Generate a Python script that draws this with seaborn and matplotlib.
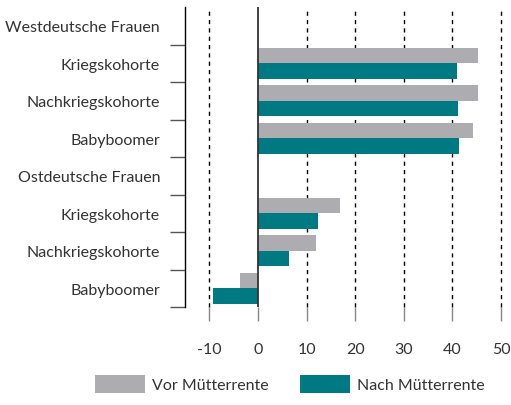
import numpy as np
import pandas as pd
import matplotlib
matplotlib.use("Agg")
import matplotlib.pyplot as plt
import seaborn as sns
from matplotlib.patches import Patch

sns.set_theme(style="white")
plt.rcParams['font.family'] = ['Lato', 'DejaVu Sans']

# ---- data ----
row_labels = ["Westdeutsche Frauen", "Kriegskohorte", "Nachkriegskohorte", "Babyboomer",
              "Ostdeutsche Frauen", "Kriegskohorte", "Nachkriegskohorte", "Babyboomer"]
vor_muetterrente = [np.nan, 45.3, 45.3, 44.2, np.nan, 16.9, 11.9, -3.7]
nach_muetterrente = [np.nan, 40.9, 41.1, 41.4, np.nan, 12.3, 6.4, -9.3]
series_names = ["Vor Mütterrente", "Nach Mütterrente"]
x_ticks = [-10, 0, 10, 20, 30, 40, 50]

colors = ["#ADADB1", "#007A82"]
FS = 11.5

row_keys = [f"r{i}" for i in range(len(row_labels))]
df = pd.DataFrame({
    "row": row_keys * 2,
    "value": vor_muetterrente + nach_muetterrente,
    "series": [series_names[0]] * len(row_keys) + [series_names[1]] * len(row_keys),
})

W, H = 511, 406
fig = plt.figure(figsize=(W / 100, H / 100), dpi=100)
ax = fig.add_axes([185 / W, 1 - 308 / H, 316 / W, 300 / H])

sns.barplot(data=df, x="value", y="row", hue="series", order=row_keys,
            hue_order=series_names, palette=colors, orient="h",
            width=0.82, saturation=1, ax=ax, legend=False, linewidth=0)

ax.set_xlim(-15, 50)
ax.set_ylim(len(row_keys) - 0.5, -0.5)
ax.set_xlabel("")
ax.set_ylabel("")

# grid
ax.set_xticks(x_ticks)
ax.set_xticklabels([str(t) for t in x_ticks], fontsize=FS, color="#333333")
for t in x_ticks:
    if t != 0:
        ax.axvline(t, color="black", linestyle=(0, (3, 3)), linewidth=1, zorder=0, clip_on=False)
ax.axvline(0, color="#333333", linewidth=1.3, zorder=3)

# spines
for s in ["top", "right", "bottom"]:
    ax.spines[s].set_visible(False)
ax.spines["left"].set_color("black")
ax.spines["left"].set_linewidth(1.0)

# y labels
ax.set_yticks(range(len(row_keys)))
ax.set_yticklabels(row_labels, fontsize=FS, color="#333333")
ax.tick_params(axis="y", which="major", left=False, length=0, pad=18)
ax.set_yticks(np.arange(0.5, len(row_keys), 1.0), minor=True)
ax.tick_params(axis="y", which="minor", left=True, length=11, width=1, color="#555555", direction="out")

ax.tick_params(axis="x", which="major", length=10, width=1, color="#888888",
               direction="out", pad=15.5, bottom=True)
for tk, v in zip(ax.xaxis.get_major_ticks(), x_ticks):
    if v == 0:
        tk.tick1line.set_color("black")

# legend
handles = [Patch(facecolor=c, edgecolor="none") for c in colors]
fig.legend(handles, series_names, loc="lower center", bbox_to_anchor=(290 / W, -0.005),
           ncol=2, frameon=False, fontsize=FS, handlelength=3.1, handleheight=1.3,
           columnspacing=2.0, handletextpad=0.45, labelcolor="#333333")

fig.savefig("out.png", dpi=100)
